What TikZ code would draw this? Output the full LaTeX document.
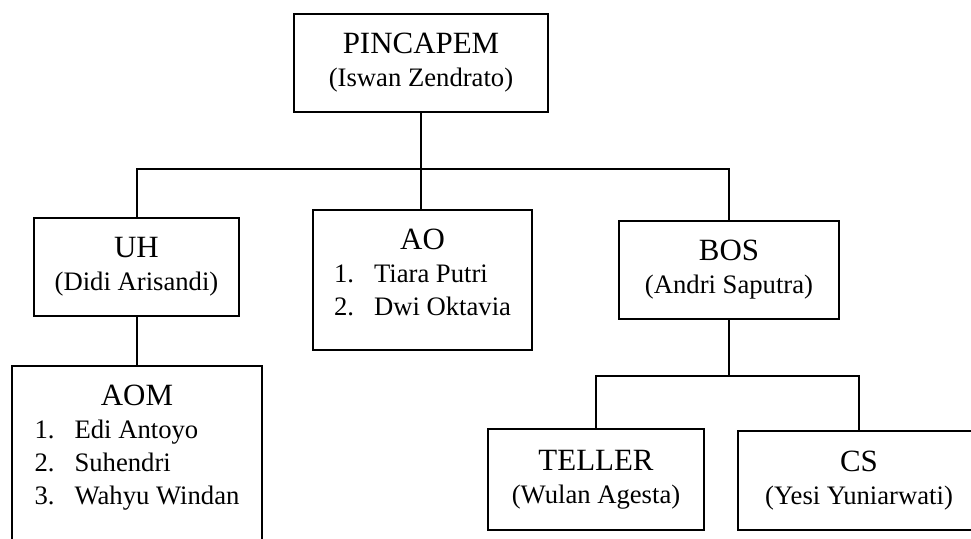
\documentclass[tikz,border=0pt]{standalone}
\usepackage{fontspec}
\setmainfont{Liberation Serif}
\usepackage{tikz}
\usetikzlibrary{positioning}

\newcommand{\headtxt}[1]{{\fontsize{11.6}{12.4}\selectfont #1}}

\begin{document}
\begin{tikzpicture}[
  x=0.375pt, y=-0.375pt,
  box/.style={draw, line width=0.75pt, align=center, inner sep=0pt,
              font=\fontsize{10}{12.4}\selectfont},
  boxsize/.style 2 args={minimum width=#1*0.375pt, minimum height=#2*0.375pt},
  wire/.style={line width=0.75pt}
]
\useasboundingbox (0,0) rectangle (971,538);
\clip (0,0) rectangle (971,538);
\fill[white] (0,0) rectangle (971,538);

\node[box, boxsize={254}{98}] (pincapem) at (421,63) {\headtxt{PINCAPEM}\\(Iswan Zendrato)};
\node[box, boxsize={205}{98}] (uh) at (136.5,266.5) {\headtxt{UH}\\(Didi Arisandi)};
\node[box, boxsize={219}{140}] (ao) at (422.5,280) {%
  \begin{tabular}{@{}l@{\hspace{7.5pt}}l@{}}
  \multicolumn{2}{c}{\headtxt{AO}}\\
  1. & Tiara Putri\\
  2. & Dwi Oktavia\\[3.4pt]
  \end{tabular}};
\node[box, boxsize={220}{98}] (bos) at (729,270) {\headtxt{BOS}\\(Andri Saputra)};
\node[box, boxsize={250}{194}] (aom) at (137,463) {%
  \begin{tabular}{@{}l@{\hspace{7.5pt}}l@{}}
  \multicolumn{2}{c}{\headtxt{AOM}}\\
  1. & Edi Antoyo\\
  2. & Suhendri\\
  3. & Wahyu Windan\\[11pt]
  \end{tabular}};
\node[box, boxsize={216}{101}] (teller) at (596,479.5) {\headtxt{TELLER}\\(Wulan Agesta)};
\node[box, boxsize={242}{99}] (cs) at (859,480.5) {\headtxt{CS}\\(Yesi Yuniarwati)};

% garis struktur
\coordinate (bus) at (421,169);
\coordinate (subbus) at (729,376);
\draw[wire] (pincapem.south) -- (bus);
\draw[wire] (uh.north) |- (bus) -| (bos.north);
\draw[wire] (bus) -- (bus |- ao.north);
\draw[wire] (uh.south) -- (uh.south |- aom.north);
\draw[wire] (bos.south) -- (subbus);
\draw[wire] (teller.north) |- (subbus) -| (cs.north);
\end{tikzpicture}
\end{document}
